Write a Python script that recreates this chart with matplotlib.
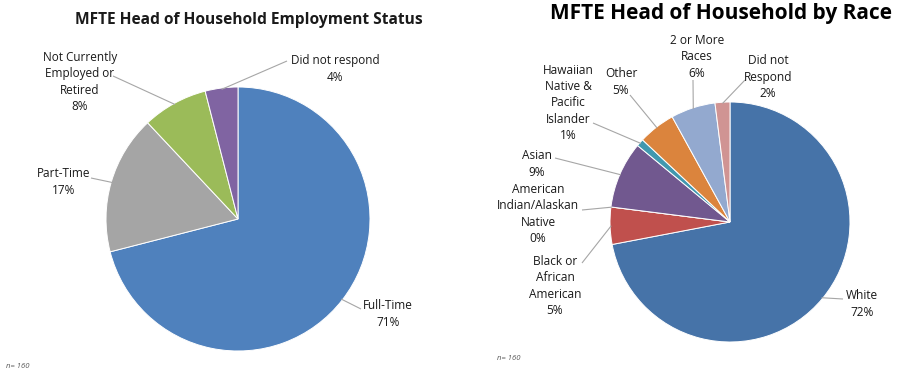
import matplotlib
matplotlib.use('Agg')
import matplotlib.pyplot as plt
import numpy as np

plt.rcParams['font.family'] = ['Open Sans', 'DejaVu Sans']

W, H = 905, 380

# ---------------- data ----------------
emp_labels = ['Full-Time', 'Part-Time', 'Not Currently\nEmployed or\nRetired', 'Did not respond']
emp_values = [71, 17, 8, 4]
emp_colors = ['#4F81BD', '#A5A5A5', '#9BBB59', '#8064A2']

race_labels = ['White', 'Black or\nAfrican\nAmerican', 'American\nIndian/Alaskan\nNative', 'Asian',
               'Hawaiian\nNative &\nPacific\nIslander', 'Other', '2 or More\nRaces', 'Did not\nRespond']
race_values = [72, 5, 0, 9, 1, 5, 6, 2]
race_colors = ['#4673A8', '#C0504D', '#9BBB59', '#71588F', '#4198AF', '#DB843D', '#93A9CF', '#D09493']

emp_title = 'MFTE Head of Household Employment Status'
race_title = 'MFTE Head of Household by Race'
note = 'n= 160'

# ---------------- layout (pixels) ----------------
L_C, L_R = (238, 219), 132
R_C, R_R = (730, 222), 120

emp_lab_pos = [(388, 314), (64, 182), (80, 82), (335, 69)]
emp_line_start = [(361, 309), (91, 178), (113, 76), (287, 61)]

race_lab_pos = [(862, 304), (555, 286), (538, 214), (537, 164), (568, 103), (621, 82), (697, 57), (768, 77)]
race_line_start = [(843, 299), (582, 263), (582, 210), (555, 158), (593, 123), (630, 95), (693, 80), (745, 80)]

fig = plt.figure(figsize=(W / 100, H / 100), dpi=100)

TXT = '#1a1a1a'
LINE = '#A6A6A6'


def make_pie(center, R, values, colors, labels, lab_pos, line_start, fsize, lsp):
    cx, cy = center
    ax = fig.add_axes([(cx - R) / W, 1 - (cy + R) / H, 2 * R / W, 2 * R / H])
    wedges, _ = ax.pie(values, colors=colors, startangle=90, counterclock=False,
                       wedgeprops=dict(edgecolor='white', linewidth=0.7))
    ax.set_xlim(-1, 1)
    ax.set_ylim(-1, 1)
    ax.set_aspect('equal')
    ax.axis('off')

    def p2d(p):
        return ((p[0] - cx) / R, (cy - p[1]) / R)

    for w, lab, v, pos, ls in zip(wedges, labels, values, lab_pos, line_start):
        x, y = p2d(pos)
        ax.text(x, y, f'{lab}\n{v}%', ha='center', va='center', fontsize=fsize,
                color=TXT, linespacing=lsp, clip_on=False)
        ang = np.deg2rad((w.theta1 + w.theta2) / 2)
        ex, ey = 0.99 * np.cos(ang), 0.99 * np.sin(ang)
        sx, sy = p2d(ls)
        ax.plot([sx, ex], [sy, ey], color=LINE, lw=0.8, clip_on=False,
                solid_capstyle='butt')
    return ax


make_pie(L_C, L_R, emp_values, emp_colors, emp_labels, emp_lab_pos, emp_line_start, 8.5, 1.32)
make_pie(R_C, R_R, race_values, race_colors, race_labels, race_lab_pos, race_line_start, 8.6, 1.33)

fig.text(249 / W, 1 - 20 / H, emp_title, ha='center', va='center', fontsize=11.2,
         fontweight='bold', color=TXT)
fig.text(721 / W, 1 - 14 / H, race_title, ha='center', va='center', fontsize=15,
         fontweight='bold', color='black')

fig.text(6 / W, 1 - 366 / H, note, ha='left', va='center', fontsize=5.5,
         style='italic', color='#595959')
fig.text(497 / W, 1 - 358 / H, note, ha='left', va='center', fontsize=5.5,
         style='italic', color='#595959')

fig.savefig('out.png', dpi=100)
